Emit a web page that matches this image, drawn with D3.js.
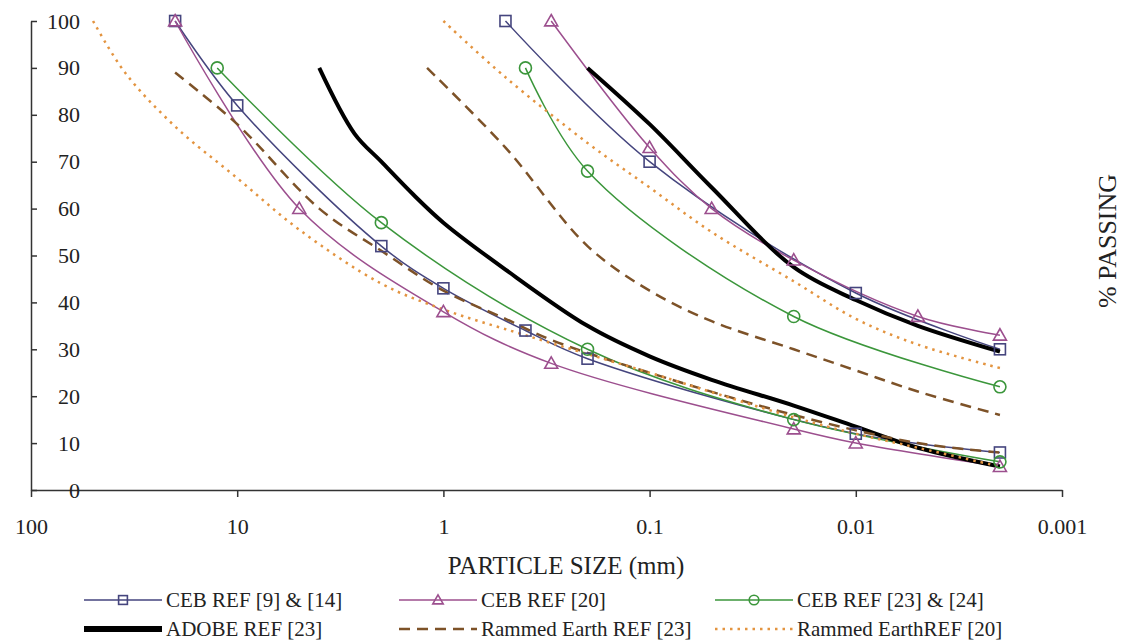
<!DOCTYPE html>
<html>
<head>
<meta charset="utf-8">
<script src="https://cdn.jsdelivr.net/npm/d3@7"></script>
<style>
  body { margin: 0; background: #fff; }
  svg text { font-family: "Liberation Serif", "Tinos", "Times New Roman", "DejaVu Serif", serif; fill: #222; }
</style>
</head>
<body>
<div id="chart"></div>
<script>
'use strict';

// particle size (mm), % passing -- each reference gives a lower and an upper bound curve
var cebRef9Lower = [[20, 100], [10, 82], [2, 52], [1, 43], [0.4, 34], [0.2, 28], [0.01, 12], [0.002, 8]];
var cebRef9Upper = [[0.5, 100], [0.1, 70], [0.01, 42], [0.002, 30]];
var cebRef20Lower = [[20, 100], [5, 60], [1, 38], [0.3, 27], [0.02, 13], [0.01, 10], [0.002, 5]];
var cebRef20Upper = [[0.3, 100], [0.1, 73], [0.05, 60], [0.02, 49], [0.005, 37], [0.002, 33]];
var cebRef23Lower = [[12.5, 90], [2, 57], [0.2, 30], [0.02, 15], [0.002, 6]];
var cebRef23Upper = [[0.4, 90], [0.2, 68], [0.02, 37], [0.002, 22]];
var adobeLower = [[4, 90], [2.7, 76], [2, 70], [1.4, 63], [1, 57], [0.5, 47], [0.2, 35], [0.1, 28.5], [0.05, 23.5], [0.02, 18], [0.01, 13.5], [0.005, 9], [0.002, 5]];
var adobeUpper = [[0.2, 90], [0.1, 78], [0.05, 64.5], [0.02, 47.5], [0.01, 40.5], [0.005, 35], [0.002, 29.5]];
var rammed23Lower = [[20, 89], [10, 78], [4, 60], [2, 51], [1, 42.5], [0.5, 36.5], [0.3, 32], [0.1, 25], [0.02, 16], [0.005, 10], [0.002, 8]];
var rammed23Upper = [[1.2, 90], [0.5, 73], [0.2, 52], [0.1, 42.5], [0.05, 36], [0.02, 30], [0.01, 25.5], [0.005, 21], [0.002, 16]];
var rammed20Lower = [[50, 100], [35, 89], [20, 77.5], [10, 66.5], [5, 55.5], [2, 44], [1, 38.5], [0.4, 33], [0.1, 25], [0.02, 15.5], [0.01, 12], [0.005, 9], [0.002, 5]];
var rammed20Upper = [[1, 100], [0.5, 88], [0.2, 74], [0.1, 64.5], [0.05, 55], [0.02, 44.5], [0.01, 36.5], [0.005, 31], [0.002, 26]];

var xTicks = [100, 10, 1, 0.1, 0.01, 0.001];
var xTickLabels = ['100', '10', '1', '0.1', '0.01', '0.001'];
var yTicks = [0, 10, 20, 30, 40, 50, 60, 70, 80, 90, 100];

var SERIF = '"Liberation Serif", "Tinos", "Times New Roman", "DejaVu Serif", serif';

var SERIES = [
  { name: 'CEB REF [9] & [14]', curves: [cebRef9Lower, cebRef9Upper], color: '#45457e', width: 1.5, dash: null, marker: 'square' },
  { name: 'CEB REF [20]', curves: [cebRef20Lower, cebRef20Upper], color: '#9c4f8e', width: 1.5, dash: null, marker: 'triangle' },
  { name: 'CEB REF [23] & [24]', curves: [cebRef23Lower, cebRef23Upper], color: '#3b963b', width: 1.5, dash: null, marker: 'circle' },
  { name: 'ADOBE REF [23]', curves: [adobeLower, adobeUpper], color: '#000000', width: 4, dash: null, marker: null },
  { name: 'Rammed Earth REF [23]', curves: [rammed23Lower, rammed23Upper], color: '#7d5228', width: 2.5, dash: '11,7', marker: null },
  { name: 'Rammed EarthREF [20]', curves: [rammed20Lower, rammed20Upper], color: '#e39440', width: 2.5, dash: '2.5,5', marker: null }
];

var WIDTH = 1125;
var HEIGHT = 643;

var svg = d3.select('#chart').append('svg')
  .attr('width', WIDTH)
  .attr('height', HEIGHT)
  .attr('font-family', SERIF);

var x = d3.scaleLog().domain([100, 0.001]).range([31, 1062]);
var y = d3.scaleLinear().domain([0, 100]).range([490, 21]);

// x axis, ticks hanging below the line
var xAxis = svg.append('g')
  .attr('transform', 'translate(0,' + y(0) + ')')
  .call(d3.axisBottom(x)
    .tickValues(xTicks)
    .tickFormat(function(d, i) { return xTickLabels[i]; })
    .tickSize(7)
    .tickSizeOuter(0)
    .tickPadding(21));
xAxis.attr('font-family', SERIF);
xAxis.select('.domain').attr('stroke', '#333').attr('stroke-width', 1.5);
xAxis.selectAll('.tick line').attr('stroke', '#333').attr('stroke-width', 1.5);
xAxis.selectAll('.tick text')
  .attr('font-size', 22)
  .attr('font-family', SERIF)
  .attr('fill', '#222');

// y axis: ticks point into the plot, labels sit right of the line
var yAxis = svg.append('g')
  .attr('transform', 'translate(' + x(100) + ',0)')
  .call(d3.axisRight(y)
    .tickValues(yTicks)
    .tickSize(6)
    .tickSizeOuter(0));
yAxis.attr('font-family', SERIF);
yAxis.select('.domain').attr('stroke', '#333').attr('stroke-width', 1.5);
yAxis.selectAll('.tick line').attr('stroke', '#333').attr('stroke-width', 1.5);
yAxis.selectAll('.tick text')
  .attr('x', 49)
  .attr('text-anchor', 'end')
  .attr('font-size', 22)
  .attr('font-family', SERIF)
  .attr('fill', '#222');

var line = d3.line()
  .x(function(d) { return x(d[0]); })
  .y(function(d) { return y(d[1]); })
  .curve(d3.curveCatmullRom.alpha(0.5));

var plot = svg.append('g');

SERIES.forEach(function(s) {
  s.curves.forEach(function(c) {
    plot.append('path')
      .datum(c)
      .attr('d', line)
      .attr('fill', 'none')
      .attr('stroke', s.color)
      .attr('stroke-width', s.width)
      .attr('stroke-dasharray', s.dash);
  });
});

SERIES.forEach(function(s) {
  if (!s.marker) return;
  s.curves.forEach(function(c) {
    c.forEach(function(d) {
      drawMarker(plot, s.marker, x(d[0]), y(d[1]), s.color, 1);
    });
  });
});

function drawMarker(g, type, cx, cy, color, scale) {
  var m;
  if (type === 'square') {
    m = g.append('rect')
      .attr('x', cx - 5.5 * scale).attr('y', cy - 5.5 * scale)
      .attr('width', 11 * scale).attr('height', 11 * scale);
  } else if (type === 'triangle') {
    var r = 6.5 * scale;
    m = g.append('path')
      .attr('d', 'M' + cx + ',' + (cy - r) + 'L' + (cx + r) + ',' + (cy + r * 0.75) + 'L' + (cx - r) + ',' + (cy + r * 0.75) + 'Z');
  } else {
    m = g.append('circle')
      .attr('cx', cx).attr('cy', cy).attr('r', 6 * scale);
  }
  m.attr('fill', 'none').attr('stroke', color).attr('stroke-width', 1.6);
}

// axis titles
svg.append('text')
  .attr('x', 566)
  .attr('y', 574)
  .attr('text-anchor', 'middle')
  .attr('font-size', 25)
  .text('PARTICLE SIZE (mm)');

svg.append('text')
  .attr('transform', 'translate(1107,241) rotate(-90)')
  .attr('text-anchor', 'middle')
  .attr('dy', '0.35em')
  .attr('font-size', 26)
  .text('% PASSING');

// legend, two rows of three
var LEGEND_COLS = [84, 399, 715];
var LEGEND_ROWS = [600, 629];
SERIES.forEach(function(s, i) {
  var lx = LEGEND_COLS[i % 3];
  var ly = LEGEND_ROWS[Math.floor(i / 3)];
  var g = svg.append('g');
  g.append('line')
    .attr('x1', lx).attr('x2', lx + 78)
    .attr('y1', ly).attr('y2', ly)
    .attr('stroke', s.color)
    .attr('stroke-width', s.width === 4 ? 6 : s.width)
    .attr('stroke-dasharray', s.dash);
  if (s.marker) drawMarker(g, s.marker, lx + 39, ly, s.color, 0.8);
  g.append('text')
    .attr('x', lx + 82)
    .attr('y', ly)
    .attr('dy', '0.35em')
    .attr('font-size', 21)
    .text(s.name);
});
</script>
</body>
</html>
